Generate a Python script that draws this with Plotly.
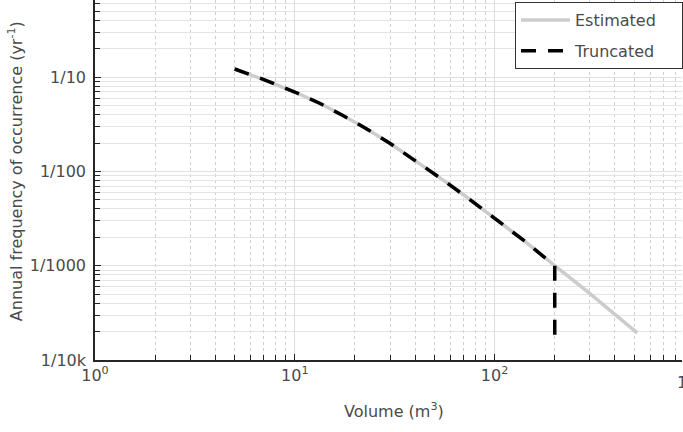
import plotly.graph_objects as go

# Data
volume_est = [5.0, 7.1, 10, 13.4, 17.4, 22.7, 29.9, 39.8, 53.1, 72.4, 100, 141, 200, 298, 517]
freq_est = [0.122, 0.0931, 0.0695, 0.0525, 0.0392, 0.0286, 0.0199, 0.0132, 0.0086,
            0.00535, 0.00321, 0.00183, 0.001, 0.000513, 0.000194]

volume_trunc = [5.0, 7.1, 10, 13.4, 17.4, 22.7, 29.9, 39.8, 53.1, 72.4, 100, 141, 200, 200]
freq_trunc = [0.122, 0.0931, 0.0695, 0.0525, 0.0392, 0.0286, 0.0199, 0.0132, 0.0086,
              0.00535, 0.00321, 0.00183, 0.001, 0.000163]

series_names = ["Estimated", "Truncated"]

y_tickvals = [1e-4, 1e-3, 1e-2, 1e-1]
y_ticktext = ["1/10k", "1/1000", "1/100", "1/10"]
x_tickvals = [1, 10, 100]
x_ticktext = ["10<sup>0</sup>", "10<sup>1</sup>", "10<sup>2</sup>"]

y_minor = [m * 10.0 ** e for e in range(-4, 0) for m in range(2, 10)]
x_minor = [m * 10.0 ** e for e in range(0, 3) for m in range(2, 10)]

FONT = "DejaVu Sans"
TXT = "#4a4a4a"
PAD = "\u00a0" * 4  # right padding inside the legend box

fig = go.Figure()
fig.add_trace(go.Scatter(
    x=volume_est, y=freq_est, mode="lines", name=series_names[0] + PAD,
    line=dict(color="#cccccc", width=3.5),
    legendgroup="a",
))
fig.add_trace(go.Scatter(
    x=volume_trunc, y=freq_trunc, mode="lines", name=series_names[1] + PAD,
    line=dict(color="black", width=3.5, dash="15px,12px"),
    legendgroup="b",
))

fig.update_layout(
    width=683, height=432,
    margin=dict(l=95, r=0, t=0, b=72),
    paper_bgcolor="white", plot_bgcolor="white",
    font=dict(family=FONT, size=16, color=TXT),
    showlegend=True,
    legend=dict(
        x=0.716, y=0.994, xanchor="left", yanchor="top",
        bgcolor="white", bordercolor="#333333", borderwidth=1,
        font=dict(family=FONT, size=16, color=TXT),
        tracegroupgap=7, itemwidth=49,
    ),
    xaxis=dict(
        type="log", range=[0, 2.938],
        tickmode="array", tickvals=x_tickvals, ticktext=x_ticktext,
        ticks="inside", ticklen=6, tickcolor="#262626",
        showline=True, linecolor="#262626", linewidth=1.5,
        showgrid=True, gridcolor="#dedede", gridwidth=1,
        zeroline=False,
        tickfont=dict(family=FONT, size=16, color=TXT),
        minor=dict(tickmode="array", tickvals=x_minor, ticks="inside", ticklen=5,
                   tickcolor="#262626", showgrid=True, gridcolor="#cfcfcf",
                   griddash="dot", gridwidth=1),
    ),
    yaxis=dict(
        type="log", range=[-4, -0.182],
        tickmode="array", tickvals=y_tickvals, ticktext=y_ticktext,
        ticks="inside", ticklen=6, tickcolor="#262626",
        showline=True, linecolor="#262626", linewidth=1.5,
        showgrid=True, gridcolor="#e0e0e0", gridwidth=1,
        zeroline=False, ticklabelstandoff=4,
        tickfont=dict(family=FONT, size=16, color=TXT),
        minor=dict(tickmode="array", tickvals=y_minor, ticks="inside", ticklen=5,
                   tickcolor="#262626", showgrid=True, gridcolor="#e4e4e4",
                   gridwidth=1),
    ),
    annotations=[
        dict(text="Volume (m<sup>3</sup>)", xref="paper", yref="paper",
             x=0.51, y=-0.139, xanchor="center", yanchor="middle",
             showarrow=False, font=dict(family=FONT, size=16, color=TXT)),
        dict(text="Annual frequency of occurrence (yr<sup>-1</sup>)",
             xref="paper", yref="paper", x=-0.136, y=0.525,
             xanchor="center", yanchor="middle", textangle=-90,
             showarrow=False, font=dict(family=FONT, size=16, color=TXT)),
        dict(text="10<sup>3</sup>", xref="paper", yref="paper",
             x=1.0153, y=-0.061, xanchor="center", yanchor="middle",
             showarrow=False, font=dict(family=FONT, size=16, color=TXT)),
    ],
)

fig.write_html("out.html")
